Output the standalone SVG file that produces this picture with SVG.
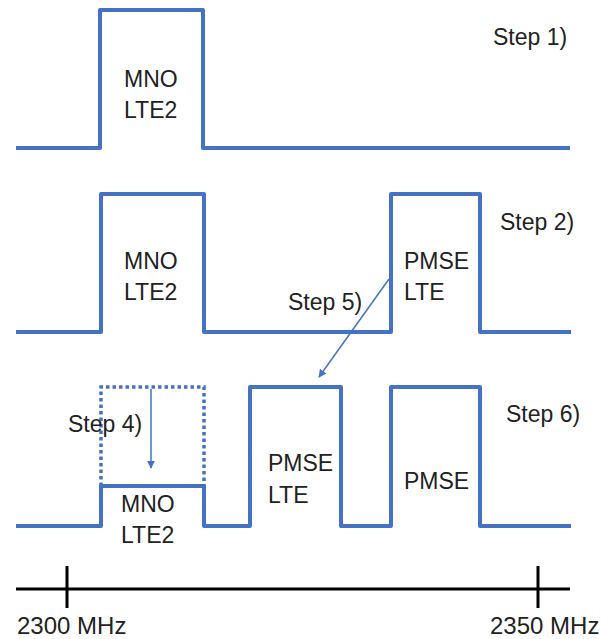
<svg xmlns="http://www.w3.org/2000/svg" width="611" height="639" viewBox="0 0 611 639">
<style>
.sig{fill:none;stroke:#4472C4;stroke-width:4;stroke-linejoin:round}
.dot{fill:none;stroke:#4472C4;stroke-width:3.5;stroke-dasharray:3.5 3}
.arr{fill:none;stroke:#4472C4;stroke-width:1.5}
.ax{fill:none;stroke:#000;stroke-width:3}
text{font-family:"Liberation Sans",Arial,sans-serif;font-size:23px;fill:#222}
.axl{font-size:24px}
</style>
<defs>
<marker id="ah" viewBox="0 0 10 10" refX="9" refY="5" markerWidth="8" markerHeight="8" markerUnits="userSpaceOnUse" orient="auto"><path d="M0,0 L10,5 L0,10 z" fill="#4472C4"/></marker>
</defs>
<g id="row1">
<path class="sig" d="M16 148 H100 V10 H203 V148 H570"/>
<text x="493" y="45">Step 1)</text>
<text x="124" y="87">MNO</text>
<text x="124" y="118">LTE2</text>
</g>
<g id="row2">
<path class="sig" d="M16 332 H101 V194 H204 V332 H391 V194 H480 V332 H571"/>
<text x="500" y="230">Step 2)</text>
<text x="124" y="269">MNO</text>
<text x="124" y="300">LTE2</text>
<text x="404" y="269">PMSE</text>
<text x="404" y="300">LTE</text>
<text x="288" y="310">Step 5)</text>
</g>
<g id="row3">
<path class="dot" d="M101 486 V387 H204 V486"/>
<path class="sig" d="M16 526 H101 V486 H204 V526 H250 V387 H341 V526 H391 V387 H480 V526 H571"/>
<text x="68" y="432">Step 4)</text>
<text x="506" y="422">Step 6)</text>
<text x="121" y="512">MNO</text>
<text x="121" y="543">LTE2</text>
<text x="268" y="471">PMSE</text>
<text x="268" y="503">LTE</text>
<text x="404" y="489">PMSE</text>
</g>
<g id="axis">
<path class="ax" d="M16 589 H570 M67 566 V608 M538 566 V608"/>
<text class="axl" x="17" y="634">2300 MHz</text>
<text class="axl" x="490" y="634">2350 MHz</text>
</g>
<g id="connectors">
<path class="arr" d="M389 279 L319 377" marker-end="url(#ah)"/>
<path class="arr" d="M151 389 V468" marker-end="url(#ah)"/>
</g>
</svg>
